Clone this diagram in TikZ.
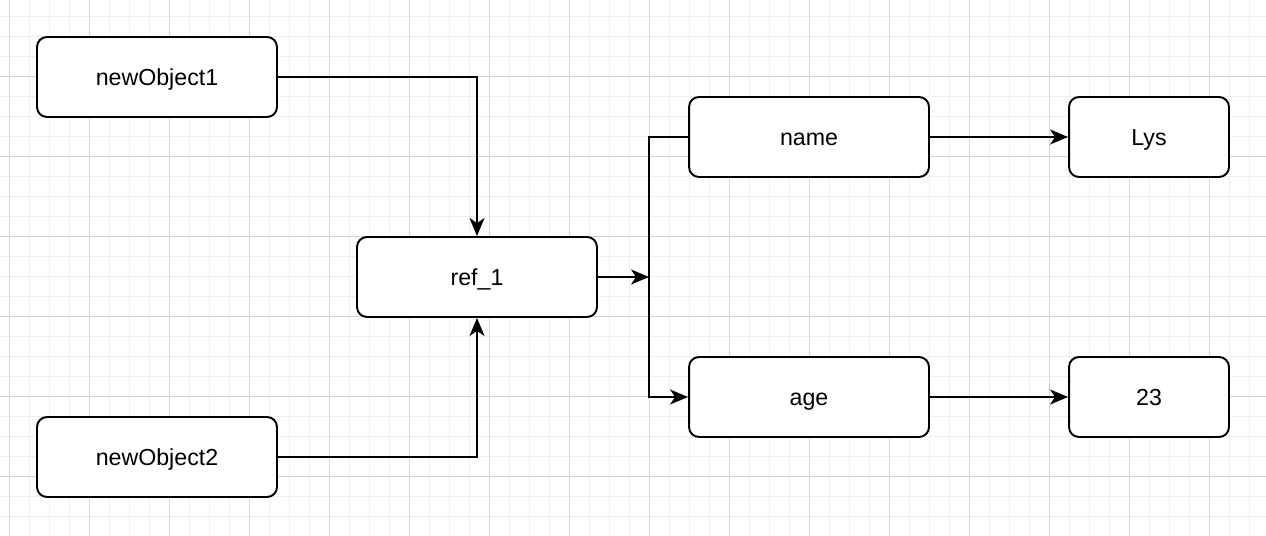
\documentclass[tikz,border=0pt]{standalone}
\usepackage{fontspec}
\setmainfont{Liberation Sans}
\usetikzlibrary{arrows.meta}
\definecolor{gridminor}{HTML}{EFEFEF}
\definecolor{gridmajor}{HTML}{D4D4D4}
\begin{document}
\begin{tikzpicture}[x=0.02cm, y=-0.02cm,
  box/.style={draw, line width=1.1pt, rounded corners=0.2cm, fill=white,
    minimum width=4.8cm, minimum height=1.6cm, text height=1.15em, text depth=0.2em,
    font=\fontsize{13.2}{15}\selectfont},
  smallbox/.style={box, minimum width=3.2cm},
  link/.style={line width=1.1pt, -{Stealth[length=0.36cm, width=0.3cm, inset=0.1cm]}}]
\useasboundingbox (0,0) rectangle (1266,536);
\fill[white] (0,0) rectangle (1266,536);
% grid
\foreach \gx in {9,29,...,1249} \draw[gridminor, line width=0.5pt] (\gx,0) -- (\gx,536);
\foreach \gy in {16,36,...,516} \draw[gridminor, line width=0.5pt] (0,\gy) -- (1266,\gy);
\foreach \gx in {9,89,...,1209} \draw[gridmajor, line width=0.5pt] (\gx,0) -- (\gx,536);
\foreach \gy in {76,156,...,476} \draw[gridmajor, line width=0.5pt] (0,\gy) -- (1266,\gy);

\node[box] (obj1) at (157,77){newObject1};
\node[box] (obj2) at (157,457){newObject2};
\node[box] (ref1) at (477,277){ref\_1};
\node[box] (name) at (809,137){name};
\node[box] (age) at (809,397){age};
\node[smallbox] (lys) at (1149,137){Lys};
\node[smallbox] (val23) at (1149,397){23};
\coordinate (split) at (649,277);
\draw[link](obj1) -| (ref1);
\draw[link](obj2) -| (ref1);
\draw[link](ref1) -- (split);
\draw[link, rounded corners=0pt](name.west) -- (649,137) |- (age.west);
\draw[link](name) -- (lys);
\draw[link](age) -- (val23);

\end{tikzpicture}
\end{document}
